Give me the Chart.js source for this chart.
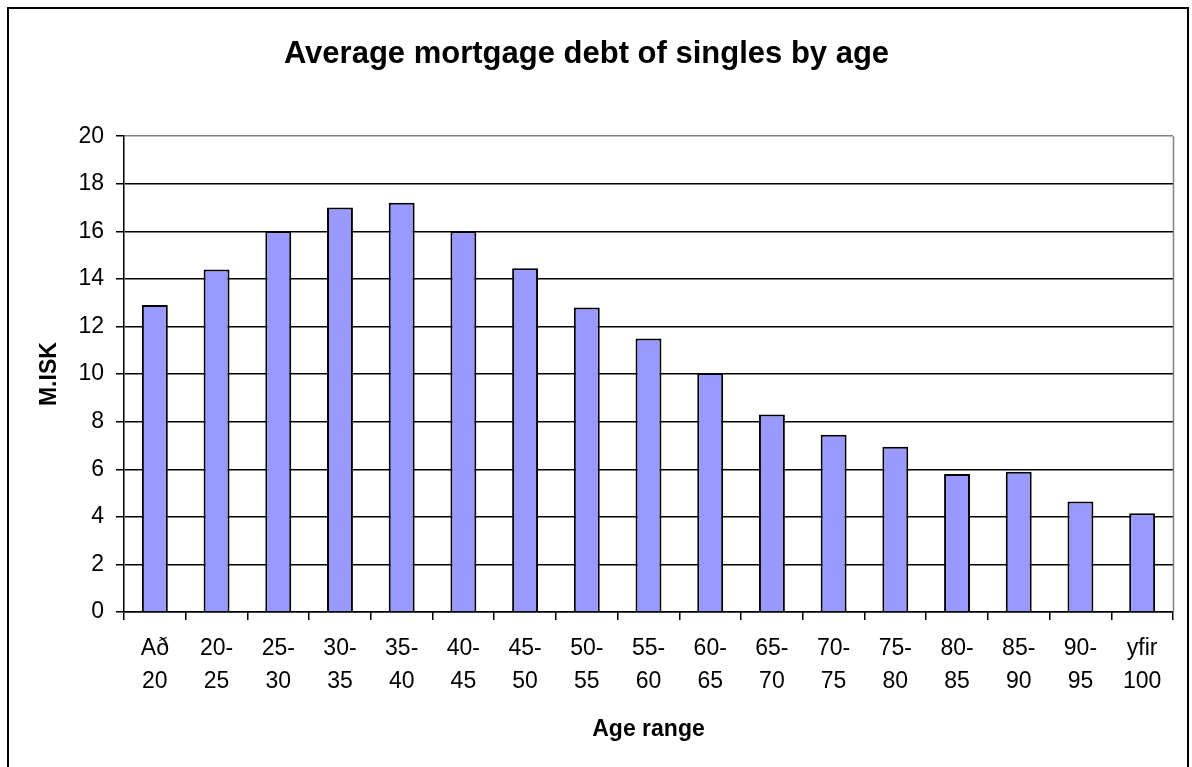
<!DOCTYPE html>
<html>
<head>
<meta charset="utf-8">
<title>Average mortgage debt of singles by age</title>
<script src="https://cdn.jsdelivr.net/npm/chart.js@4/dist/chart.umd.min.js"></script>
<style>
  html, body { margin: 0; padding: 0; background: #fff; }
  #debtChart { display: block; }
</style>
</head>
<body>
<canvas id="debtChart" width="1192" height="767"></canvas>
<script>
// Age groups, split over two label lines
const ageTop = ['Að', '20-', '25-', '30-', '35-', '40-', '45-', '50-', '55-', '60-', '65-', '70-', '75-', '80-', '85-', '90-', 'yfir'];
const ageBottom = ['20', '25', '30', '35', '40', '45', '50', '55', '60', '65', '70', '75', '80', '85', '90', '95', '100'];

// Average mortgage debt, millions ISK
const avgDebt = [12.9, 14.4, 16.0, 17.0, 17.2, 16.0, 14.45, 12.8, 11.5, 10.05, 8.3, 7.45, 6.95, 5.8, 5.9, 4.65, 4.15];

const FONT = "'Liberation Sans', Arial, sans-serif";

// Outer frame around the whole chart and the grey right edge of the plot
const framePlugin = {
  id: 'frame',
  beforeDatasetsDraw(chart) {
    const { ctx, chartArea } = chart;
    ctx.save();
    ctx.strokeStyle = '#808080';
    ctx.lineWidth = 1.5;
    ctx.beginPath();
    ctx.moveTo(Math.round(chartArea.right) + 0.5, chartArea.top);
    ctx.lineTo(Math.round(chartArea.right) + 0.5, chartArea.bottom);
    ctx.stroke();
    ctx.restore();
  },
  afterDraw(chart) {
    const { ctx } = chart;
    ctx.save();
    ctx.strokeStyle = '#000';
    ctx.lineWidth = 2;
    ctx.strokeRect(8, 8, 1180, 780);
    ctx.restore();
  }
};

const ctx = document.getElementById('debtChart').getContext('2d');

new Chart(ctx, {
  type: 'bar',
  data: {
    labels: ageTop.map((t, i) => [t, ageBottom[i]]),
    datasets: [{
      data: avgDebt,
      backgroundColor: '#9999FF',
      borderColor: '#000',
      borderWidth: 2,
      categoryPercentage: 1,
      barPercentage: 0.42
    }]
  },
  options: {
    responsive: false,
    animation: false,
    devicePixelRatio: 1,
    layout: {
      padding: { left: 0, right: 19, top: 0, bottom: 0 }
    },
    plugins: {
      legend: { display: false },
      tooltip: { enabled: false },
      title: {
        display: true,
        text: 'Average mortgage debt of singles by age',
        color: '#000',
        font: { family: FONT, size: 31, weight: 'bold', lineHeight: 1.2 },
        padding: { top: 36, bottom: 63 }
      }
    },
    scales: {
      x: {
        afterFit(scale) { scale.height = 155; },
        grid: {
          drawOnChartArea: false,
          drawTicks: true,
          tickLength: 8,
          tickColor: '#000',
          lineWidth: 1.5
        },
        border: { display: true, color: '#000', width: 1.5 },
        ticks: {
          color: '#000',
          font: { family: FONT, size: 23, lineHeight: 1.435 },
          padding: 12,
          maxRotation: 0,
          autoSkip: false
        },
        title: {
          display: true,
          text: 'Age range',
          color: '#000',
          font: { family: FONT, size: 23, weight: 'bold', lineHeight: 1.2 },
          padding: { top: 0, bottom: 24 }
        }
      },
      y: {
        min: 0,
        max: 20,
        afterFit(scale) { scale.width = 124; },
        grid: {
          color: c => (c.tick && c.tick.value === 20 ? '#808080' : '#000'),
          tickColor: '#000',
          tickLength: 8,
          lineWidth: 1.5
        },
        border: { display: true, color: '#000', width: 1.5 },
        ticks: {
          stepSize: 2,
          color: '#000',
          font: { family: FONT, size: 23 },
          padding: 12
        },
        title: {
          display: true,
          text: 'M.ISK',
          color: '#000',
          font: { family: FONT, size: 23, weight: 'bold', lineHeight: 1.2 },
          padding: { top: 36, bottom: 0 }
        }
      }
    }
  },
  plugins: [framePlugin]
});
</script>
</body>
</html>
